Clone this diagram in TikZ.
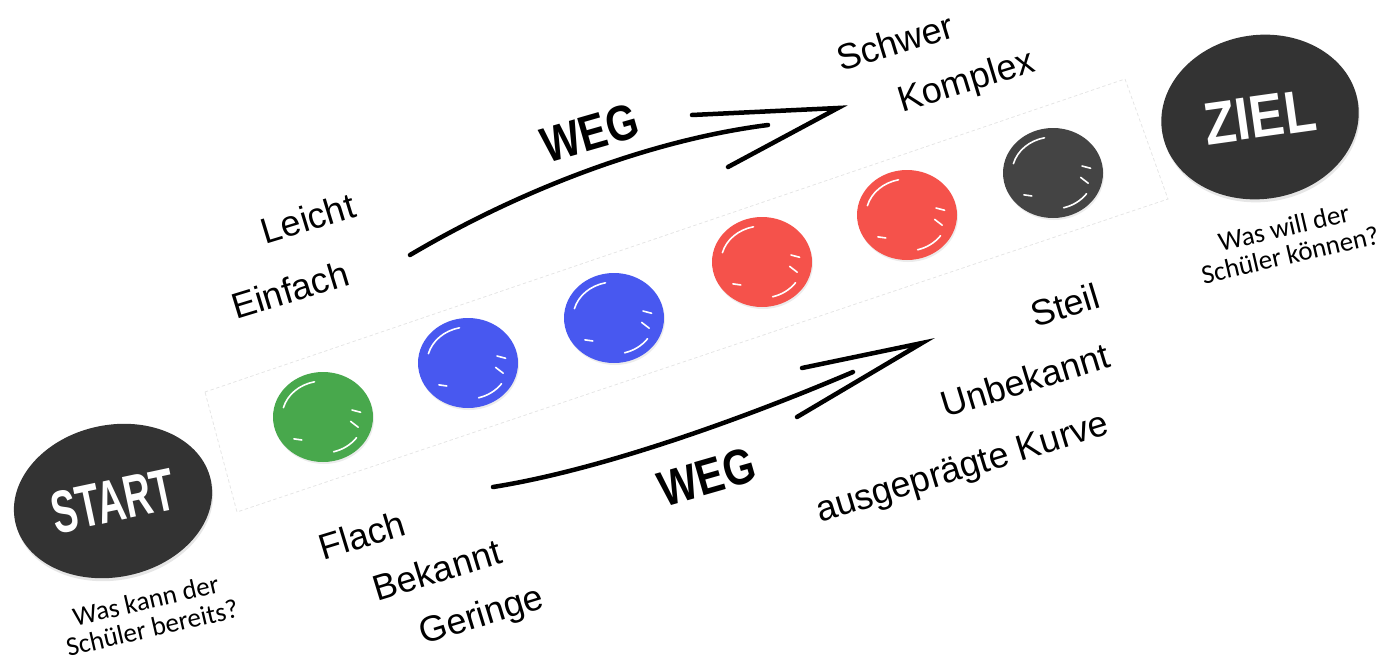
\documentclass[tikz,border=0pt]{standalone}
\usepackage{fontspec}
\setmainfont{Liberation Sans}
\newfontfamily\calibri{Carlito}
\usetikzlibrary{positioning, shapes.geometric, shadows}

\definecolor{ballgreen}{RGB}{72,168,76}
\definecolor{ballblue}{RGB}{72,88,240}
\definecolor{ballred}{RGB}{245,82,75}
\definecolor{ballgrey}{RGB}{68,68,68}
\definecolor{goaldark}{RGB}{51,51,51}

\begin{document}
\begin{tikzpicture}[
            x=1pt, y=-1pt,
            line cap=round,
            ball/.style={ellipse, fill=#1, inner sep=0pt, minimum width=100pt, minimum height=90pt,
                drop shadow={opacity=0.15, shadow xshift=1pt, shadow yshift=-2pt},
                path picture={
                    \begin{scope}[shift={(path picture bounding box.center)}, white, line width=1.6pt]
                        \draw (195:41 and 36) arc[start angle=195, end angle=258, x radius=41, y radius=36];
                        \draw (35:41 and 36) arc[start angle=35, end angle=75, x radius=41, y radius=36];
                        \draw (-15:30 and 27) -- (-8:38 and 34);
                        \draw (10:28 and 25) -- (18:37 and 33);
                        \draw (130:33 and 30) -- (140:38 and 34);
                    \end{scope}}},
            goal/.style={ellipse, fill=goaldark, inner sep=0pt, text=white,
                font=\fontsize{60}{60}\selectfont\bfseries,
                drop shadow={opacity=0.2, shadow xshift=1pt, shadow yshift=-3pt}},
            lbl/.style={font=\fontsize{36}{40}\selectfont, rotate=17, inner sep=0pt},
            weg/.style={font=\fontsize{50}{50}\selectfont\bfseries, rotate=16, inner sep=0pt},
            frage/.style={font=\calibri\fontsize{27}{28}\selectfont, align=center, rotate=13, inner sep=0pt},
            pfeil/.style={line width=4.5pt},
        ]
            \useasboundingbox (0,0) rectangle (1391,661);

            % faint frame behind the balls
            \draw[black!10, dashed, line width=0.8pt] (205,392) -- (1125,79) -- (1168,199) -- (237,512) -- cycle;

            % START and ZIEL
            \node[goal, minimum width=200pt, minimum height=152pt, rotate=12] (start) at (113,501) {\scalebox{0.64}[1]{START}};
            \node[goal, minimum width=198pt, minimum height=164pt, rotate=8] (ziel) at (1260,117) {\scalebox{0.86}[1]{ZIEL}};
            \node[frage] (frage-start) at (149,614) {Was kann der\\Schüler bereits?};
            \node[frage] (frage-ziel) at (1287,241) {Was will der\\Schüler können?};

            % the balls
            \foreach \name/\x/\y/\farbe in {1/323/417/ballgreen, 2/468/363/ballblue, 3/614/318/ballblue,
                                            4/762/262/ballred, 5/907/215/ballred, 6/1053/173/ballgrey}
                \node[ball=\farbe] (B-\name) at (\x,\y) {};

            % upper way
            \coordinate (WO-s) at (410,255);
            \coordinate (WO-e) at (768,125);
            \coordinate (WO-t) at (838,108);
            \coordinate (WO-l) at (692,115);
            \coordinate (WO-r) at (728,167);
            \draw[pfeil] (WO-s) .. controls (520,190) and (650,140) .. (WO-e);
            \draw[pfeil] (WO-l) -- (WO-t) -- (WO-r);
            \node[weg] (weg-o) at (590,133) {\scalebox{0.82}[1]{WEG}};

            % lower way
            \coordinate (WU-s) at (493,487);
            \coordinate (WU-e) at (853,372);
            \coordinate (WU-t) at (922,343);
            \coordinate (WU-l) at (802,368);
            \coordinate (WU-r) at (797,417);
            \draw[pfeil] (WU-s) .. controls (600,470) and (740,420) .. (WU-e);
            \draw[pfeil] (WU-l) -- (WU-t) -- (WU-r);
            \node[weg] (weg-u) at (707,477) {\scalebox{0.82}[1]{WEG}};

            % labels
            \node[lbl] (schwer) at (895,42) {Schwer};
            \node[lbl] (komplex) at (967,83) {Komplex};
            \node[lbl] (leicht) at (308,218) {Leicht};
            \node[lbl] (einfach) at (290,290) {Einfach};
            \node[lbl] (steil) at (1065,305) {Steil};
            \node[lbl] (unbekannt) at (1025,380) {Unbekannt};
            \node[lbl] (kurve) at (963,470) {ausgeprägte Kurve};
            \node[lbl] (flach) at (362,535) {Flach};
            \node[lbl] (bekannt) at (437,570) {Bekannt};
            \node[lbl] (geringe) at (482,617) {Geringe};
        \end{tikzpicture}
\end{document}
